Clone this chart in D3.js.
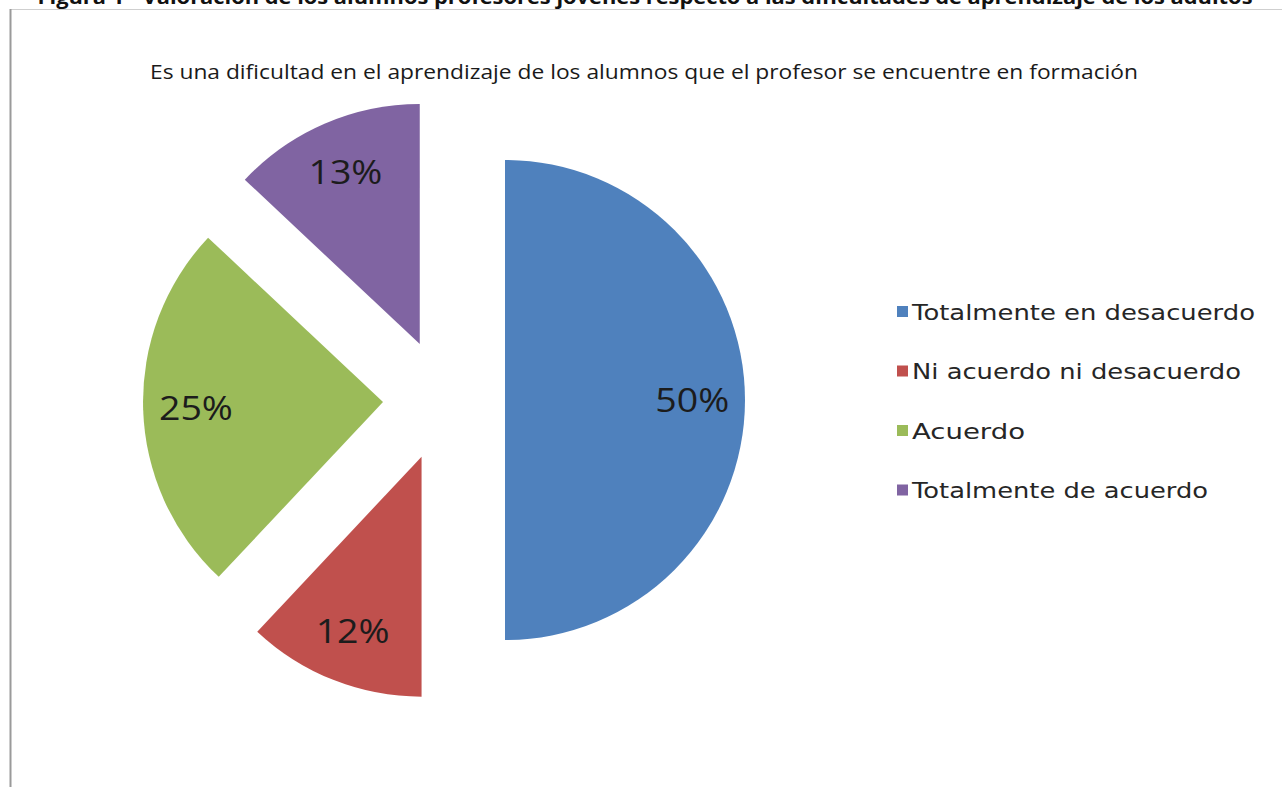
<!DOCTYPE html>
<html>
<head>
<meta charset="utf-8">
<script src="https://cdn.jsdelivr.net/npm/d3@7"></script>
<style>
  html, body { margin: 0; padding: 0; background: #fff; }
  svg { display: block; }
</style>
</head>
<body>
<div id="chart"></div>
<script>
/* Data */

var categories = ["Totalmente en desacuerdo", "Ni acuerdo ni desacuerdo", "Acuerdo", "Totalmente de acuerdo"];
var values = [50, 12, 25, 13];
var pctLabels = ["50%", "12%", "25%", "13%"];
var colors = ["#4F81BD", "#C0504D", "#9BBB59", "#8064A2"];

var figTitle = "Figura 1 - Valoración de los alumnos profesores jóvenes respecto a las dificultades de aprendizaje de los adultos";
var chartTitle = "Es una dificultad en el aprendizaje de los alumnos que el profesor se encuentre en formación";

var width = 1282,
    height = 787,
    cx = 444, cy = 400,
    radius = 240,
    explode = 61;

var svg = d3.select("#chart").append("svg")
    .attr("width", width)
    .attr("height", height);

// frame lines of the chart area
svg.append("line").attr("x1", 10).attr("y1", 9.5).attr("x2", width).attr("y2", 9.5)
    .attr("stroke", "#cfcfcf").attr("stroke-width", 1);
svg.append("line").attr("x1", 10.5).attr("y1", 9).attr("x2", 10.5).attr("y2", height)
    .attr("stroke", "#9a9a9a").attr("stroke-width", 2);

// figure caption, cut at the top of the picture as in the source
svg.append("text")
    .attr("x", 645).attr("y", 4)
    .attr("text-anchor", "middle")
    .attr("textLength", 1215).attr("lengthAdjust", "spacingAndGlyphs")
    .style("font-family", "'Open Sans', sans-serif")
    .style("font-weight", "bold")
    .style("font-size", "19px")
    .style("fill", "#111")
    .text(figTitle);

svg.append("text")
    .attr("x", 644).attr("y", 79)
    .attr("text-anchor", "middle")
    .attr("textLength", 988).attr("lengthAdjust", "spacingAndGlyphs")
    .style("font-family", "'Open Sans', sans-serif")
    .style("font-size", "20px")
    .style("fill", "#1a1a1a")
    .text(chartTitle);

var pie = d3.pie().sort(null).value(function(d) { return d; });
var arc = d3.arc().innerRadius(0).outerRadius(radius);
var arcs = pie(values);

function midAngle(d) {
    return d.startAngle + (d.endAngle - d.startAngle) / 2;
}

var g = svg.append("g").attr("transform", "translate(" + cx + "," + cy + ")");

var slice = g.selectAll("g.slice")
    .data(arcs)
    .enter().append("g")
    .attr("class", "slice")
    .attr("transform", function(d) {
        var a = midAngle(d);
        return "translate(" + (explode * Math.sin(a)) + "," + (-explode * Math.cos(a)) + ")";
    });

slice.append("path")
    .attr("d", arc)
    .style("fill", function(d, i) { return colors[i]; });

slice.append("text")
    .attr("transform", function(d) {
        var a = midAngle(d), r = radius * 0.78;
        return "translate(" + (r * Math.sin(a)) + "," + (-r * Math.cos(a)) + ")";
    })
    .attr("text-anchor", "middle")
    .attr("dy", "0.36em")
    .attr("textLength", 74).attr("lengthAdjust", "spacingAndGlyphs")
    .style("font-family", "'Open Sans', sans-serif")
    .style("font-size", "33px")
    .style("fill", "#1c1c1c")
    .text(function(d, i) { return pctLabels[i]; });

/* Legend */

var legend = svg.append("g").attr("transform", "translate(897,312)");
var item = legend.selectAll("g.item")
    .data(categories)
    .enter().append("g")
    .attr("class", "item")
    .attr("transform", function(d, i) { return "translate(0," + (i * 59.5) + ")"; });

item.append("rect")
    .attr("x", 0).attr("y", -6)
    .attr("width", 11).attr("height", 11)
    .style("fill", function(d, i) { return colors[i]; });

var legendWidths = [343, 329, 113, 296];
item.append("text")
    .attr("x", 15)
    .attr("dy", "0.36em")
    .attr("textLength", function(d, i) { return legendWidths[i]; })
    .attr("lengthAdjust", "spacingAndGlyphs")
    .style("font-family", "'DejaVu Sans', sans-serif")
    .style("font-size", "22px")
    .style("fill", "#262626")
    .text(function(d) { return d; });
</script>
</body>
</html>
